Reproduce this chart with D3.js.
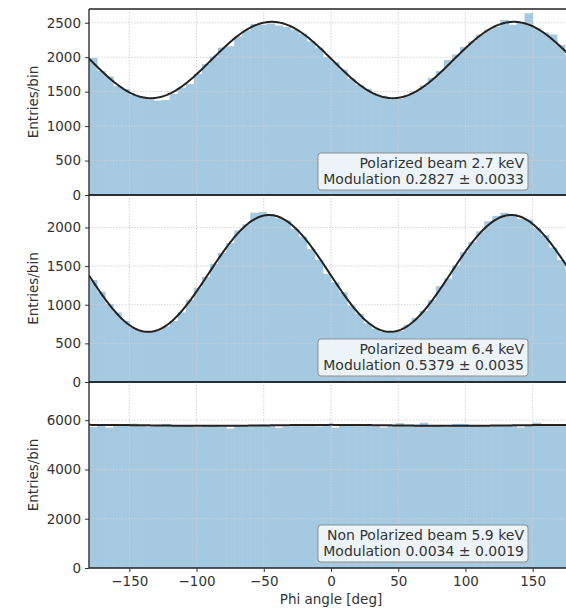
<!DOCTYPE html>
<html>
<head>
<meta charset="utf-8">
<script src="https://cdn.jsdelivr.net/npm/d3@7"></script>
<style>
  html, body { margin: 0; padding: 0; background: #fff; }
  svg { display: block; }
  text { font-family: "DejaVu Sans", sans-serif; }
</style>
</head>
<body>
<svg id="chart" width="566" height="609"></svg>
<script>
// ---- data ----
const binEdgesDeg = d3.range(-180, 181, 6); // 60 bins of 6 degrees
const xTicks = [-150, -100, -50, 0, 50, 100, 150];

const countsPol27 = [
  1990, 1800, 1720, 1580, 1540, 1450, 1430, 1400, 1370, 1380,
  1470, 1560, 1610, 1760, 1900, 2010, 2140, 2160, 2300, 2390,
  2480, 2470, 2490, 2460, 2440, 2400, 2340, 2230, 2140, 2000,
  1930, 1820, 1690, 1600, 1540, 1470, 1440, 1400, 1400, 1450,
  1510, 1590, 1700, 1800, 1960, 2040, 2150, 2230, 2330, 2400,
  2440, 2540, 2470, 2500, 2640, 2420, 2360, 2330, 2180, 2040
];
const countsPol64 = [
  1320, 1170, 1010, 900, 790, 700, 660, 650, 670, 720,
  790, 900, 1060, 1220, 1360, 1530, 1670, 1800, 1960, 2040,
  2190, 2200, 2170, 2120, 2090, 1980, 1880, 1720, 1580, 1400,
  1290, 1160, 990, 880, 760, 690, 650, 640, 660, 740,
  830, 920, 1060, 1240, 1340, 1510, 1680, 1810, 1950, 2080,
  2150, 2190, 2170, 2110, 2100, 1990, 1900, 1740, 1580, 1450
];
const countsUnpol59 = [
  5720, 5790, 5700, 5780, 5820, 5860, 5790, 5740, 5800, 5850,
  5780, 5760, 5790, 5720, 5770, 5800, 5740, 5660, 5760, 5750,
  5790, 5820, 5800, 5690, 5740, 5780, 5760, 5800, 5750, 5790,
  5700, 5820, 5780, 5760, 5790, 5750, 5700, 5800, 5880, 5800,
  5820, 5900, 5790, 5760, 5740, 5850, 5850, 5780, 5770, 5750,
  5790, 5760, 5770, 5700, 5780, 5900, 5800, 5780, 5760, 5790
];

// fit parameters: N (mean counts), modulation, phase (deg)
const fitMean = [1960, 1405, 5790];
const fitModulation = [0.2827, 0.5379, 0.0034];
const fitPhase = [-44, -46, 0];

const yMax = [2700, 2420, 7550];
const yTicksTop = [0, 500, 1000, 1500, 2000, 2500];
const yTicksMid = [0, 500, 1000, 1500, 2000];
const yTicksBot = [0, 2000, 4000, 6000];

const legendLine1 = ["Polarized beam 2.7 keV", "Polarized beam 6.4 keV", "Non Polarized beam 5.9 keV"];
const legendLine2 = ["Modulation 0.2827 \u00b1 0.0033", "Modulation 0.5379 \u00b1 0.0035", "Modulation 0.0034 \u00b1 0.0019"];

const xLabel = "Phi angle [deg]";
const yLabel = "Entries/bin";

// ---- layout ----
const svg = d3.select("#chart");
const left = 89, right = 573;
const panelTops = [9, 195, 382];
const panelBottoms = [195, 382, 568];
const countsAll = [countsPol27, countsPol64, countsUnpol59];
const yTicksAll = [yTicksTop, yTicksMid, yTicksBot];
const legendBoxTop = [153, 339, 525];

const x = d3.scaleLinear().domain([-180, 180]).range([left, right]);

const fillColor = "#a5c9e1";
const textColor = "#333";
const axisFont = 13.5;
const legendFont = 14;

for (let p = 0; p < 3; p++) {
  const y = d3.scaleLinear().domain([0, yMax[p]]).range([panelBottoms[p], panelTops[p]]);
  const g = svg.append("g");
  const clipId = "clip" + p;
  svg.append("clipPath").attr("id", clipId).append("rect")
    .attr("x", left).attr("y", panelTops[p])
    .attr("width", right - left).attr("height", panelBottoms[p] - panelTops[p]);
  const plot = g.append("g").attr("clip-path", `url(#${clipId})`);

  // histogram bins
  const bins = countsAll[p].map((c, i) => ({ x0: binEdgesDeg[i], x1: binEdgesDeg[i + 1], c }));
  plot.selectAll("rect.bin").data(bins).enter().append("rect")
    .attr("class", "bin")
    .attr("x", d => x(d.x0))
    .attr("width", d => x(d.x1) - x(d.x0) + 0.5)
    .attr("y", d => y(d.c))
    .attr("height", d => y(0) - y(d.c))
    .attr("fill", fillColor);

  // grid
  plot.selectAll("line.gx").data(xTicks).enter().append("line")
    .attr("x1", d => x(d)).attr("x2", d => x(d))
    .attr("y1", panelTops[p]).attr("y2", panelBottoms[p])
    .attr("stroke", "#cfcfcf").attr("stroke-width", 0.9).attr("stroke-dasharray", "1.5,1.5");
  plot.selectAll("line.gy").data(yTicksAll[p]).enter().append("line")
    .attr("x1", left).attr("x2", right)
    .attr("y1", d => y(d)).attr("y2", d => y(d))
    .attr("stroke", "#cfcfcf").attr("stroke-width", 0.9).attr("stroke-dasharray", "1.5,1.5");

  // fit curve
  const phis = d3.range(-180, 180.01, 1);
  const fitLine = d3.line()
    .x(d => x(d))
    .y(d => y(fitMean[p] * (1 + fitModulation[p] * Math.cos(2 * (d - fitPhase[p]) * Math.PI / 180))))
    .curve(d3.curveLinear);
  plot.append("path").datum(phis).attr("d", fitLine)
    .attr("fill", "none").attr("stroke", "#222").attr("stroke-width", 2);

  // y axis
  const yAxis = d3.axisLeft(y).tickValues(yTicksAll[p]).tickSize(4).tickPadding(4).tickFormat(d3.format("d"));
  const ya = g.append("g").attr("transform", `translate(${left},0)`).call(yAxis);
  ya.select(".domain").remove();
  ya.selectAll("line").attr("stroke", "#333").attr("stroke-width", 1);
  ya.selectAll("text").attr("font-size", axisFont).attr("fill", textColor)
    .attr("font-family", "DejaVu Sans, sans-serif");

  // spines
  g.append("line").attr("x1", left).attr("x2", left).attr("y1", panelTops[p]).attr("y2", panelBottoms[p])
    .attr("stroke", "#222").attr("stroke-width", 1.3);
  g.append("line").attr("x1", left).attr("x2", right).attr("y1", panelTops[p]).attr("y2", panelTops[p])
    .attr("stroke", "#222").attr("stroke-width", 1.3);
  g.append("line").attr("x1", left).attr("x2", right).attr("y1", panelBottoms[p]).attr("y2", panelBottoms[p])
    .attr("stroke", "#222").attr("stroke-width", 1.3);

  // y label
  g.append("text")
    .attr("transform", `translate(38,${(panelTops[p] + panelBottoms[p]) / 2}) rotate(-90)`)
    .attr("text-anchor", "middle")
    .attr("font-size", axisFont).attr("fill", textColor)
    .text(yLabel);

  // legend box
  const bx = 318, bw = 210, bh = 37, by = legendBoxTop[p];
  g.append("rect").attr("x", bx).attr("y", by).attr("width", bw).attr("height", bh)
    .attr("rx", 3).attr("ry", 3)
    .attr("fill", "#edf4f9").attr("stroke", "#8f8f8f").attr("stroke-width", 1);
  g.append("text").attr("x", bx + bw - 4).attr("y", by + 15)
    .attr("text-anchor", "end").attr("font-size", legendFont).attr("fill", textColor).text(legendLine1[p]);
  g.append("text").attr("x", bx + bw - 4).attr("y", by + 31)
    .attr("text-anchor", "end").attr("font-size", legendFont).attr("fill", textColor).text(legendLine2[p]);

  if (p === 2) {
    const xAxis = d3.axisBottom(x).tickValues(xTicks).tickSize(4).tickPadding(4)
      .tickFormat(d => d < 0 ? "\u2212" + Math.abs(d) : String(d));
    const xa = g.append("g").attr("transform", `translate(0,${panelBottoms[p]})`).call(xAxis);
    xa.select(".domain").remove();
    xa.selectAll("line").attr("stroke", "#333").attr("stroke-width", 1);
    xa.selectAll("text").attr("font-size", axisFont).attr("fill", textColor)
      .attr("font-family", "DejaVu Sans, sans-serif");
    g.append("text").attr("x", x(0)).attr("y", 604)
      .attr("text-anchor", "middle").attr("font-size", axisFont).attr("fill", textColor)
      .text(xLabel);
  }
}
</script>
</body>
</html>
